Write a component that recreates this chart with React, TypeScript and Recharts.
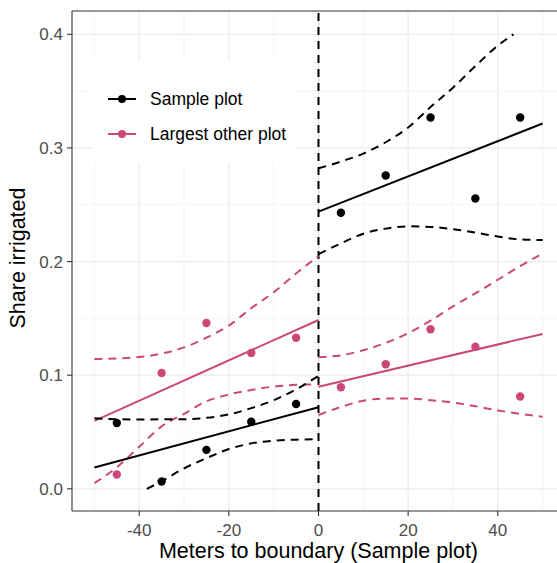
import { ComposedChart, Line, Scatter, XAxis, YAxis, CartesianGrid, ReferenceLine, Label } from 'recharts';

// axis setup
const xTicks = [-40, -20, 0, 20, 40];
const xMinor = [-50, -30, -10, 10, 30, 50];
const yTicks = [0, 0.1, 0.2, 0.3, 0.4];
const yMinor = [0.05, 0.15, 0.25, 0.35];

// binned means
const binX = [-45, -35, -25, -15, -5, 5, 15, 25, 35, 45];
const sampleY = [0.058, 0.0064, 0.0343, 0.059, 0.0747, 0.243, 0.2757, 0.3268, 0.2555, 0.3268];
const otherY = [0.0126, 0.102, 0.146, 0.1195, 0.133, 0.0894, 0.1096, 0.1404, 0.1251, 0.0812];

// linear fits on each side of the boundary
const fitLeftX = [-50, 0];
const fitRightX = [0, 50];
const sampleFitLeft = [0.0188, 0.0718];
const sampleFitRight = [0.2439, 0.3215];
const otherFitLeft = [0.0598, 0.1486];
const otherFitRight = [0.0899, 0.1363];

// confidence bands
const ciLeftX = [-50, -45, -40, -35, -30, -25, -20, -15, -10, -5, 0];
const ciRightX = [0, 5, 10, 15, 20, 25, 30, 35, 40, 45, 50];
const sampleUpperLeft = [0.0621, 0.0613, 0.061, 0.0612, 0.0613, 0.0625, 0.0655, 0.071, 0.078, 0.0875, 0.0993];
const sampleLowerLeftX = [-38.3, -35, -30, -25, -20, -15, -10, -5, 0];
const sampleLowerLeft = [0, 0.0067, 0.018, 0.027, 0.035, 0.04, 0.0423, 0.0433, 0.0437];
const sampleUpperRightX = [0, 5, 10, 15, 20, 25, 30, 35, 40, 43.5];
const sampleUpperRight = [0.282, 0.288, 0.295, 0.305, 0.318, 0.336, 0.353, 0.372, 0.39, 0.4];
const sampleLowerRight = [0.2066, 0.216, 0.2245, 0.229, 0.231, 0.2305, 0.2285, 0.2255, 0.222, 0.2195, 0.2189];
const otherUpperLeft = [0.1143, 0.1147, 0.116, 0.119, 0.1245, 0.133, 0.1437, 0.159, 0.173, 0.1895, 0.205];
const otherLowerLeft = [0.005, 0.019, 0.037, 0.055, 0.066, 0.077, 0.083, 0.087, 0.09, 0.0915, 0.092];
const otherUpperRight = [0.1158, 0.1175, 0.122, 0.1285, 0.137, 0.148, 0.1605, 0.172, 0.184, 0.196, 0.207];
const otherLowerRight = [0.065, 0.072, 0.0775, 0.0795, 0.0795, 0.078, 0.076, 0.0727, 0.069, 0.066, 0.0635];

const BLACK = '#000000';
const PINK = '#cc4778';
const FONT = '"Liberation Sans", Arial, Helvetica, sans-serif';
const yMin = -0.0195;
const yMax = 0.4205;

const pts = (xs: number[], ys: number[]) => xs.map((x, i) => ({ x, y: ys[i] }));

const Dot = (color: string) => (props: any) => <circle cx={props.cx} cy={props.cy} r={4.2} fill={color} />;

const fitLine = (key: string, data: any[], color: string) => (
  <Line key={key} data={data} dataKey="y" type="linear" stroke={color} strokeWidth={2} dot={false} isAnimationActive={false} legendType="none" />
);

const ciLine = (key: string, data: any[], color: string) => (
  <Line key={key} data={data} dataKey="y" type="monotone" stroke={color} strokeWidth={2} strokeDasharray="8 6" dot={false} isAnimationActive={false} legendType="none" />
);

const legendItems = [
  { name: 'Sample plot', color: BLACK },
  { name: 'Largest other plot', color: PINK },
];

export default function App() {
  return (
    <div style={{ position: 'absolute', left: 0, top: 0, width: 557, height: 563, overflow: 'hidden', background: '#fff', fontFamily: FONT }}>
      <ComposedChart width={580} height={563} margin={{ top: 11, right: 15, bottom: 0, left: 0 }}>
        <CartesianGrid horizontalValues={yMinor} verticalValues={xMinor} stroke="#f2f2f2" strokeWidth={0.8} />
        <CartesianGrid horizontalValues={yTicks} verticalValues={xTicks} stroke="#ebebeb" strokeWidth={1.2} />
        <XAxis
          type="number"
          dataKey="x"
          domain={[-55, 55]}
          ticks={xTicks}
          allowDataOverflow
          height={52}
          tickSize={5}
          tickMargin={8}
          axisLine={{ stroke: '#333333', strokeWidth: 1.1 }}
          tickLine={{ stroke: '#333333', strokeWidth: 1.1 }}
          tick={{ fill: '#4d4d4d', fontSize: 17 }}
        >
          <Label
            content={() => (
              <text x={318.5} y={558} textAnchor="middle" fontSize={21.5} fill="#000">
                Meters to boundary (Sample plot)
              </text>
            )}
          />
        </XAxis>
        <YAxis
          type="number"
          domain={[yMin, yMax]}
          ticks={yTicks}
          allowDataOverflow
          width={72}
          tickSize={5}
          tickMargin={4}
          tickFormatter={(v: number) => v.toFixed(1)}
          axisLine={{ stroke: '#333333', strokeWidth: 1.1 }}
          tickLine={{ stroke: '#333333', strokeWidth: 1.1 }}
          tick={{ fill: '#4d4d4d', fontSize: 17 }}
        >
          <Label
            content={() => (
              <text x={25} y={258} textAnchor="middle" fontSize={21.5} fill="#000" transform="rotate(-90, 25, 258)">
                Share irrigated
              </text>
            )}
          />
        </YAxis>
        <ReferenceLine y={yMax} stroke="#333333" strokeWidth={1.1} />
        <ReferenceLine x={0} stroke={BLACK} strokeWidth={2} strokeDasharray="8 6" />

        {ciLine('oul', pts(ciLeftX, otherUpperLeft), PINK)}
        {ciLine('oll', pts(ciLeftX, otherLowerLeft), PINK)}
        {ciLine('our', pts(ciRightX, otherUpperRight), PINK)}
        {ciLine('olr', pts(ciRightX, otherLowerRight), PINK)}
        {fitLine('ofl', pts(fitLeftX, otherFitLeft), PINK)}
        {fitLine('ofr', pts(fitRightX, otherFitRight), PINK)}

        {ciLine('sul', pts(ciLeftX, sampleUpperLeft), BLACK)}
        {ciLine('sll', pts(sampleLowerLeftX, sampleLowerLeft), BLACK)}
        {ciLine('sur', pts(sampleUpperRightX, sampleUpperRight), BLACK)}
        {ciLine('slr', pts(ciRightX, sampleLowerRight), BLACK)}
        {fitLine('sfl', pts(fitLeftX, sampleFitLeft), BLACK)}
        {fitLine('sfr', pts(fitRightX, sampleFitRight), BLACK)}

        <Scatter data={pts(binX, otherY)} dataKey="y" fill={PINK} shape={Dot(PINK)} isAnimationActive={false} />
        <Scatter data={pts(binX, sampleY)} dataKey="y" fill={BLACK} shape={Dot(BLACK)} isAnimationActive={false} />
      </ComposedChart>

      <div style={{ position: 'absolute', left: 93, top: 60, width: 203, height: 103, background: '#fff' }}>
        {legendItems.map((item, i) => (
          <div
            key={item.name}
            style={{ position: 'absolute', left: 14, top: 27 + i * 35, height: 24, display: 'flex', alignItems: 'center', whiteSpace: 'nowrap' }}
          >
            <svg width={30} height={24}>
              <line x1={1} y1={12} x2={29} y2={12} stroke={item.color} strokeWidth={2} />
              <circle cx={15} cy={12} r={4} fill={item.color} />
            </svg>
            <span style={{ marginLeft: 13, fontSize: 17.5, color: '#000' }}>{item.name}</span>
          </div>
        ))}
      </div>
    </div>
  );
}
